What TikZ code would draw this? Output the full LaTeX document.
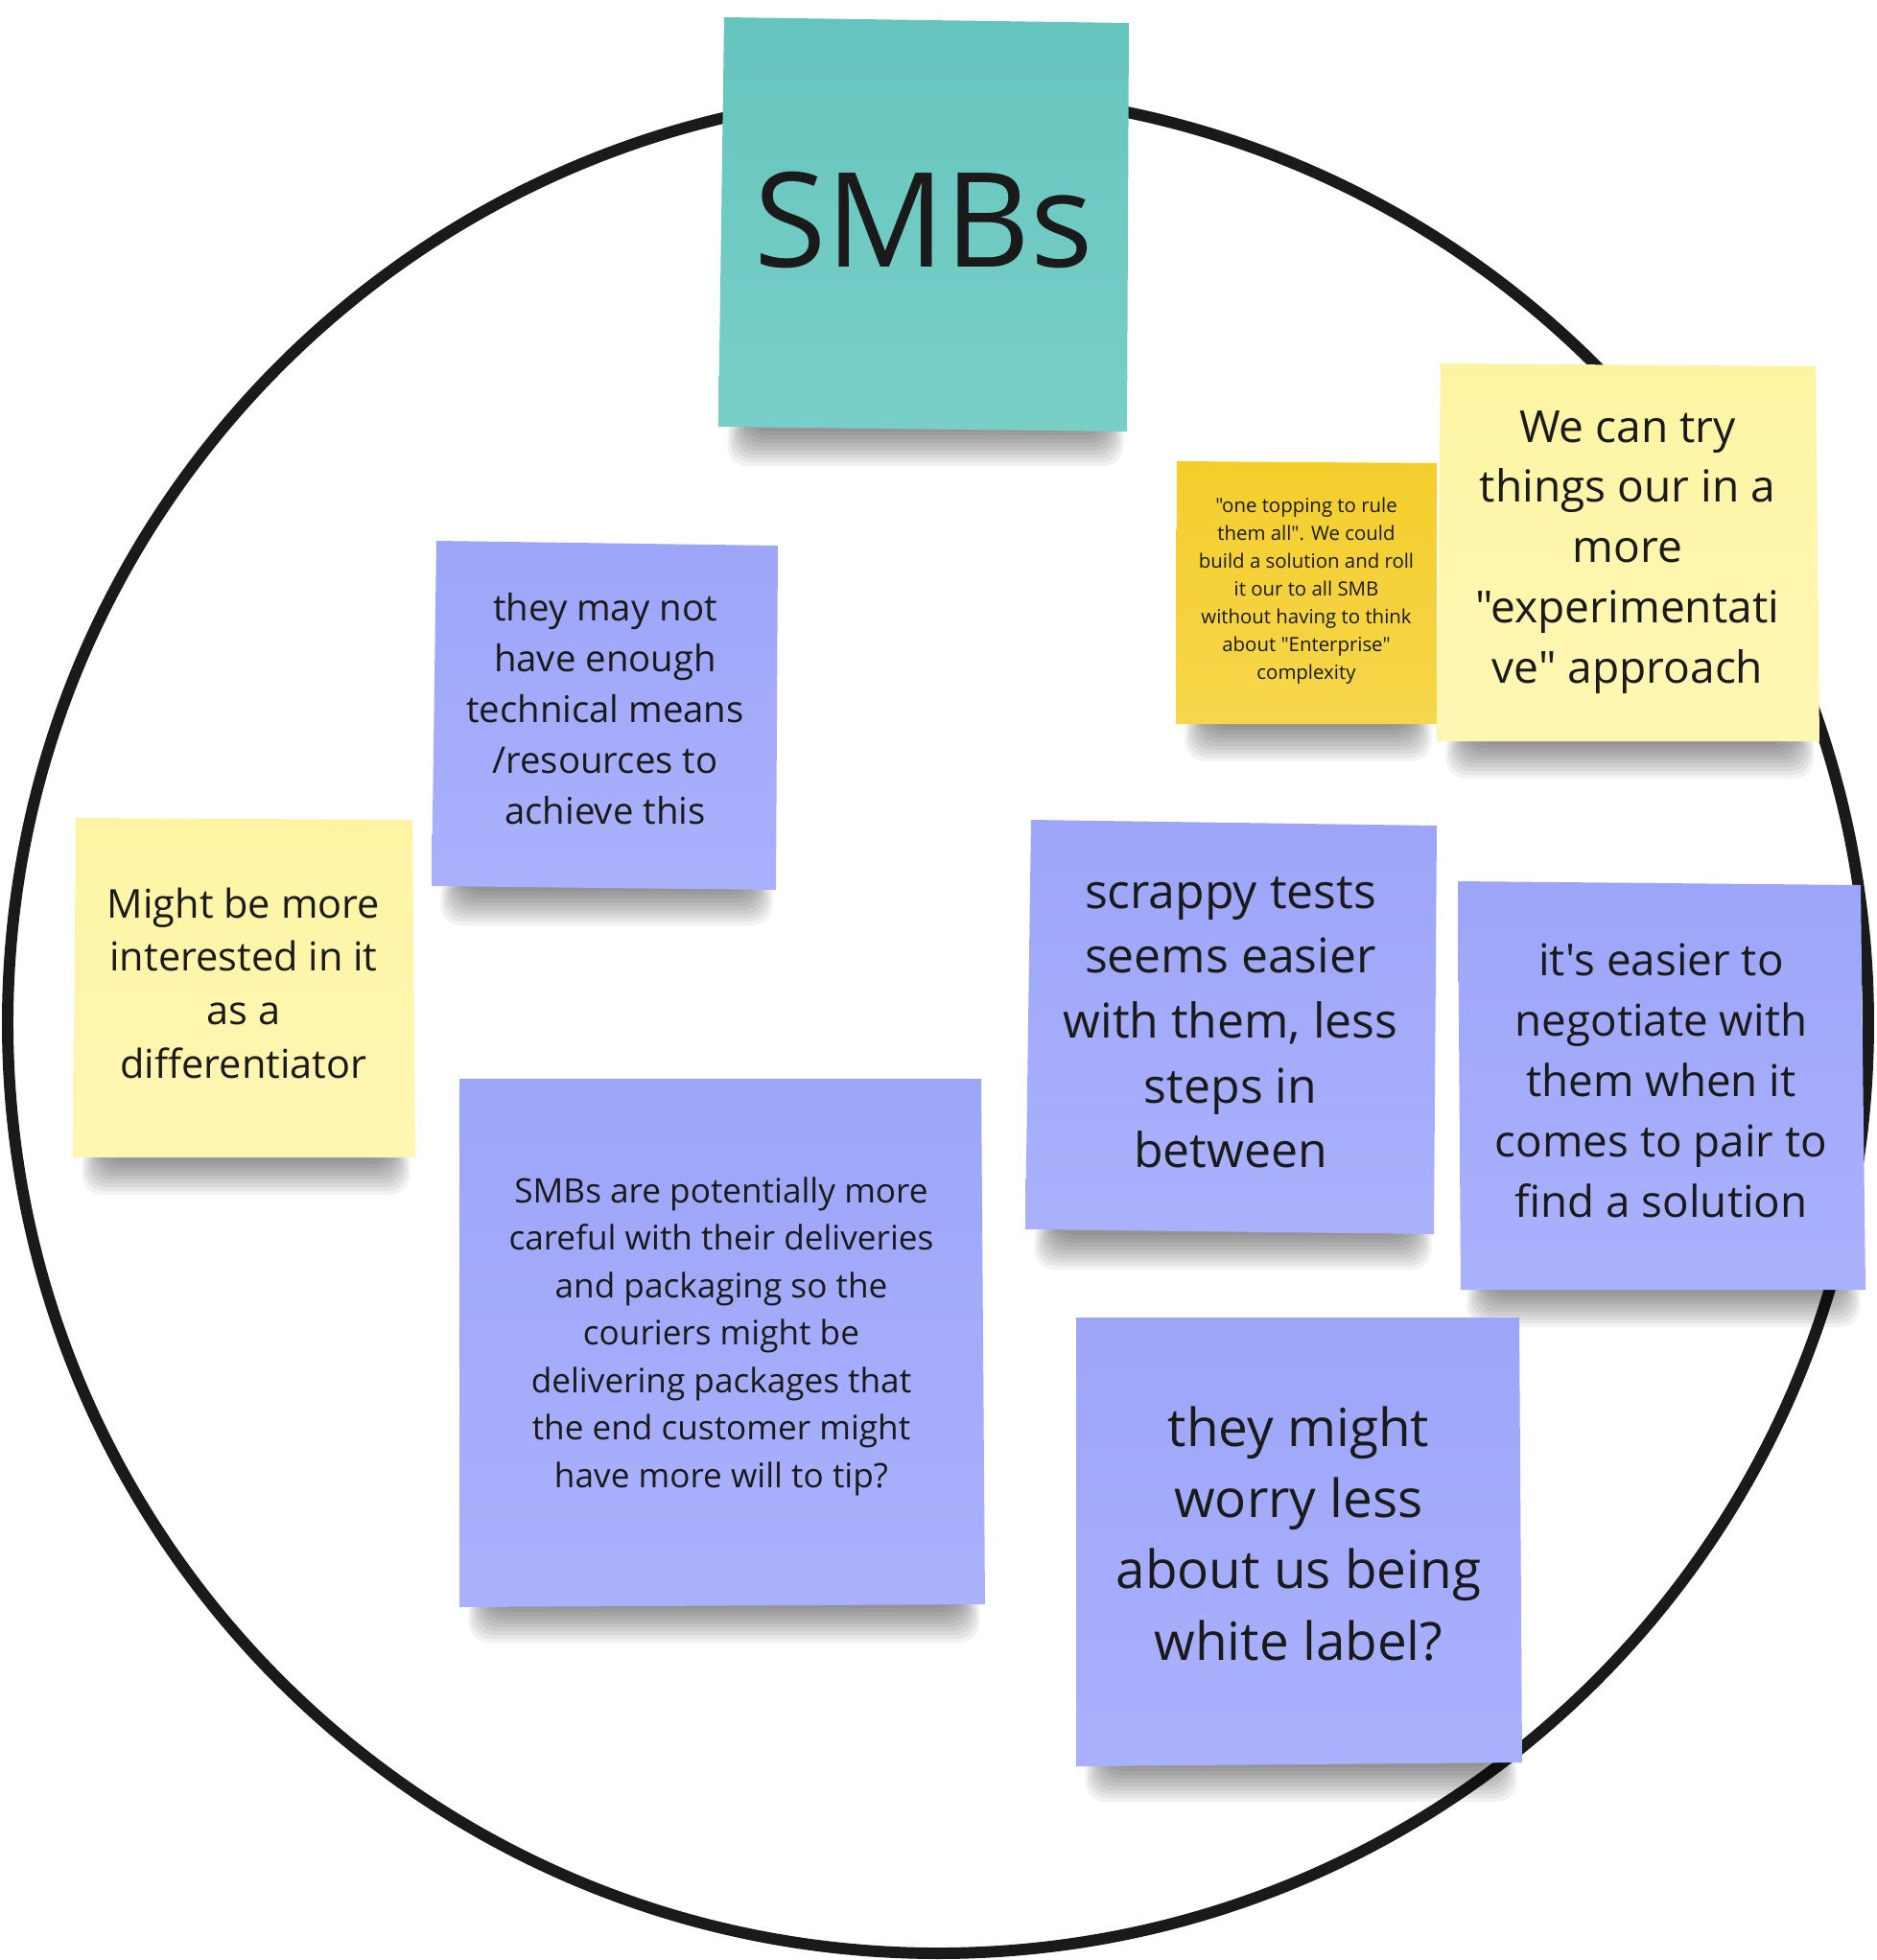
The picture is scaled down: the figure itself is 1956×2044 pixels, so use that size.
\documentclass[tikz,border=0pt]{standalone}
\usepackage{fontspec}
\setmainfont{Open Sans}[Ligatures=TeXOff]
\definecolor{ink}{HTML}{1A1A1A}
\definecolor{tealtop}{HTML}{65C5BE}
\definecolor{tealbot}{HTML}{79CFC7}
\definecolor{bluetop}{HTML}{9DA5F9}
\definecolor{bluebot}{HTML}{AAB1FC}
\definecolor{ylwtop}{HTML}{FDF4A3}
\definecolor{ylwbot}{HTML}{FEF7B4}
\definecolor{goldtop}{HTML}{F4CE2C}
\definecolor{goldbot}{HTML}{F6D64B}
\newcommand\notesh[3]{%
  \foreach \k in {0,...,9}{%
    \fill[black, opacity=0.05, rounded corners=6pt] ({#1+32-\k*2.5},{#3-15}) rectangle ({#2-28+\k*2.5},{#3+3+\k*4});
  }}
\newcommand\notetext[3]{{\fontsize{#1}{#2}\selectfont\begin{tabular}[t]{@{}c@{}}#3\end{tabular}}}
\tikzset{
  notelabel/.style={anchor=base, inner sep=0pt, text=ink},
  ring/.style={draw=ink, line width=3.4pt}
}
\begin{document}
\begin{tikzpicture}[x=0.01cm, y=-0.01cm]
\useasboundingbox (0,0) rectangle (1956,2044);
\fill[white] (0,0) rectangle (1956,2044);
% circle
\draw[ring] (978,1067) circle[radius=970];
% teal SMBs
\notesh{749}{1177}{447}
\shade[top color=tealtop, bottom color=tealbot] (755,18) -- (1177,24) -- (1175,450) -- (749,445) -- cycle;
\node[notelabel] (smbs) at (963,278) {\notetext{39}{53}{SMBs}};
% gold note
\notesh{1226}{1498}{755}
\shade[top color=goldtop, bottom color=goldbot] (1227,481) -- (1498,483) -- (1498,755) -- (1226,755) -- cycle;
\node[notelabel] (topping) at (1362,534) {\notetext{5.8}{8.28}{"one topping to rule\\them all". We could\\build a solution and roll\\it our to all SMB\\without having to think\\about "Enterprise"\\complexity}};
% yellow we can try
\notesh{1498}{1897}{773}
\shade[top color=ylwtop, bottom color=ylwbot] (1502,379) -- (1893,382) -- (1897,773) -- (1498,773) -- cycle;
\node[notelabel] (trythings) at (1697,461) {\notetext{13.1}{17.87}{We can try\\things our in a\\more\\"experimentati\\ve" approach}};
% blue they may not
\notesh{450}{811}{926}
\shade[top color=bluetop, bottom color=bluebot] (455,564) -- (811,569) -- (809,928) -- (450,924) -- cycle;
\node[notelabel] (means) at (631,647) {\notetext{10.9}{15.08}{they may not\\have enough\\technical means\\/resources to\\achieve this}};
% yellow might be more
\notesh{76}{433}{1207}
\shade[top color=ylwtop, bottom color=ylwbot] (79,853) -- (430,855) -- (433,1207) -- (76,1207) -- cycle;
\node[notelabel] (differ) at (254,957) {\notetext{11.8}{15.85}{Might be more\\interested in it\\as a\\differentiator}};
% blue SMBs are potentially
\notesh{479}{1027}{1674}
\shade[top color=bluetop, bottom color=bluebot] (479,1125) -- (1023,1125) -- (1027,1673) -- (479,1676) -- cycle;
\node[notelabel] (careful) at (752,1254) {\notetext{10}{14.1}{SMBs are potentially more\\careful with their deliveries\\and packaging so the\\couriers might be\\delivering packages that\\the end customer might\\have more will to tip?}};
% blue scrappy tests
\notesh{1069}{1498}{1285}
\shade[top color=bluetop, bottom color=bluebot] (1075,855) -- (1498,861) -- (1495,1287) -- (1069,1282) -- cycle;
\node[notelabel] (scrappy) at (1283,947) {\notetext{14.2}{19.26}{scrappy tests\\seems easier\\with them, less\\steps in\\between}};
% blue it's easier
\notesh{1520}{1945}{1345}
\shade[top color=bluetop, bottom color=bluebot] (1520,919) -- (1940,923) -- (1945,1345) -- (1523,1345) -- cycle;
\node[notelabel] (negotiate) at (1732,1017) {\notetext{13.0}{17.98}{it's easier to\\negotiate with\\them when it\\comes to pair to\\find a solution}};
% blue they might worry less
\notesh{1122}{1587}{1840}
\shade[top color=bluetop, bottom color=bluebot] (1122,1374) -- (1584,1374) -- (1587,1838) -- (1122,1842) -- cycle;
\node[notelabel] (whitelabel) at (1354,1508) {\notetext{15.6}{21.14}{they might\\worry less\\about us being\\white label?}};
\end{tikzpicture}
\end{document}
